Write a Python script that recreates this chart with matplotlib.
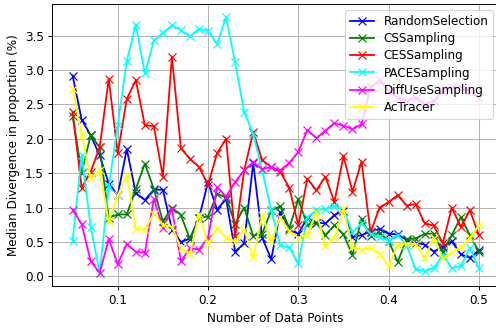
import matplotlib
matplotlib.use("Agg")
import matplotlib.pyplot as plt

# fraction of data points used
ratios = [0.05, 0.06, 0.07, 0.08, 0.09, 0.10, 0.11, 0.12, 0.13, 0.14,
          0.15, 0.16, 0.17, 0.18, 0.19, 0.20, 0.21, 0.22, 0.23, 0.24,
          0.25, 0.26, 0.27, 0.28, 0.29, 0.30, 0.31, 0.32, 0.33, 0.34,
          0.35, 0.36, 0.37, 0.38, 0.39, 0.40, 0.41, 0.42, 0.43, 0.44,
          0.45, 0.46, 0.47, 0.48, 0.49, 0.50]

random_sel = [2.92, 2.28, 2.05, 1.76, 1.35, 1.18, 1.85, 1.21, 1.11, 1.26,
              1.26, 0.68, 0.50, 0.55, 0.85, 1.37, 0.97, 1.13, 0.36, 0.48,
              1.65, 0.56, 0.25, 0.93, 0.67, 0.62, 0.85, 0.78, 0.77, 0.89,
              0.95, 0.57, 0.60, 0.65, 0.69, 0.62, 0.61, 0.53, 0.49, 0.46,
              0.36, 0.43, 0.51, 0.32, 0.27, 0.38]

cs_sampling = [2.33, 1.51, 2.05, 1.88, 0.85, 0.90, 0.90, 1.27, 1.64, 1.27,
               0.80, 1.00, 0.89, 0.54, 0.85, 0.87, 1.20, 1.15, 0.76, 1.00,
               0.59, 0.62, 0.96, 1.02, 0.70, 1.12, 0.74, 0.78, 0.60, 0.74,
               0.61, 0.31, 0.84, 0.58, 0.63, 0.52, 0.21, 0.54, 0.55, 0.62,
               0.62, 0.35, 0.60, 0.86, 0.60, 0.35]

ces_sampling = [2.39, 1.29, 1.52, 1.88, 2.87, 1.79, 2.58, 2.85, 2.20, 2.18,
                1.45, 3.19, 1.86, 1.71, 1.59, 1.33, 1.79, 2.00, 0.58, 1.54,
                2.10, 1.69, 1.59, 1.52, 1.29, 0.74, 1.42, 1.25, 1.45, 1.08,
                1.75, 1.23, 1.67, 0.64, 1.00, 1.08, 1.18, 1.03, 1.05, 0.77,
                0.74, 0.48, 1.00, 0.72, 0.96, 0.60]

pace_sampling = [0.51, 1.76, 0.72, 0.05, 1.30, 2.20, 3.13, 3.66, 2.95, 3.43,
                 3.54, 3.65, 3.58, 3.49, 3.60, 3.57, 3.38, 3.77, 3.11, 2.39,
                 2.07, 1.54, 0.96, 0.45, 0.42, 0.19, 0.86, 0.96, 0.98, 1.02,
                 0.98, 0.64, 0.77, 0.62, 0.57, 0.52, 0.60, 0.45, 0.10, 0.08,
                 0.12, 0.31, 0.12, 0.15, 0.41, 0.12]

diffuse_sampling = [0.97, 0.76, 0.22, 0.05, 0.54, 0.18, 0.47, 0.36, 0.34, 1.13,
                    0.70, 0.98, 0.22, 0.41, 0.39, 0.56, 1.30, 1.16, 1.37, 1.54,
                    1.66, 1.56, 1.59, 1.54, 1.65, 1.81, 2.13, 2.01, 2.12, 2.23,
                    2.19, 2.14, 2.21, 2.75, 2.85, 2.70, 2.60, 2.55, 2.60, 2.50,
                    2.55, 2.70, 2.75, 2.75, 2.70, 2.60]

actracer = [2.73, 2.07, 1.43, 1.54, 0.80, 1.18, 1.47, 0.69, 0.68, 0.91,
            0.75, 0.72, 0.41, 0.32, 0.90, 0.47, 0.71, 0.56, 0.50, 0.68,
            0.28, 0.89, 0.52, 0.86, 0.66, 0.56, 0.60, 0.93, 0.44, 0.56,
            0.98, 0.42, 0.39, 0.41, 0.33, 0.15, 0.46, 0.47, 0.47, 0.26,
            0.56, 0.26, 0.35, 0.42, 0.56, 0.74]

methods = {
    "RandomSelection": (random_sel, "blue"),
    "CSSampling": (cs_sampling, "green"),
    "CESSampling": (ces_sampling, "red"),
    "PACESampling": (pace_sampling, "cyan"),
    "DiffUseSampling": (diffuse_sampling, "magenta"),
    "AcTracer": (actracer, "yellow"),
}

DPI = 86
fig = plt.figure(figsize=(497 / DPI, 328 / DPI), dpi=DPI)
ax = fig.add_axes([52.3 / 497, 42.3 / 328, 446.9 / 497, 281.4 / 328])

for name, (vals, col) in methods.items():
    ax.plot(ratios, vals, marker="x", color=col, label=name)

ax.set_xlabel("Number of Data Points")
ax.set_ylabel("Median Divergence in proportion (%)")
ax.grid(True)
ax.legend(loc="upper right", labelspacing=0.35)

fig.savefig("out.png", dpi=DPI)
